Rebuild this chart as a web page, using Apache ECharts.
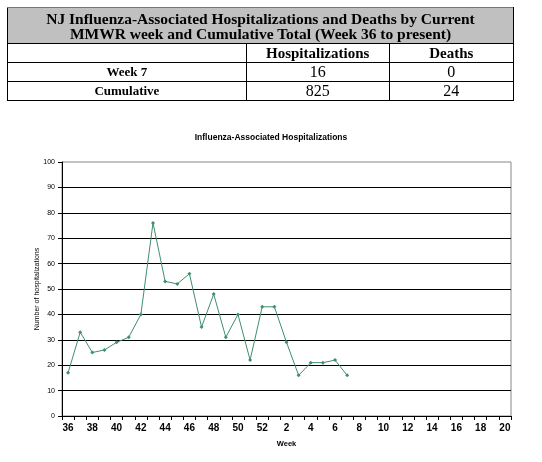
<!DOCTYPE html>
<html>
<head>
<meta charset="utf-8">
<script src="https://cdn.jsdelivr.net/npm/echarts@6/dist/echarts.min.js"></script>
<style>
html,body{margin:0;padding:0;background:#fff;}
#chart{position:absolute;left:0;top:0;width:542px;height:462px;}
#tbl{position:absolute;left:7px;top:7px;width:507px;border-collapse:collapse;font-family:"Liberation Serif",serif;color:#000;}
#tbl td{border:1px solid #000;padding:0;text-align:center;}
#tbl .hd{background:#c0c0c0;font-weight:bold;font-size:15.5px;line-height:15px;height:35px;border-top-color:#777;}
#tbl .ch{font-weight:bold;font-size:15px;height:18px;line-height:18px;}
#tbl .rh{font-weight:bold;font-size:13px;height:18px;line-height:18px;}
#tbl .v{font-size:16px;height:18px;line-height:18px;}
</style>
</head>
<body>
<div id="chart"></div>
<table id="tbl"></table>
<script>
// Table contents
var tableTitle = ["NJ Influenza-Associated Hospitalizations and Deaths by Current", "MMWR week and Cumulative Total (Week 36 to present)"];
var tableColumns = ["", "Hospitalizations", "Deaths"];
var tableRows = ["Week 7", "Cumulative"];
var tableHosp = [16, 825];
var tableDeaths = [0, 24];

// Chart data
var weeks = ["36","37","38","39","40","41","42","43","44","45","46","47","48","49","50","51","52",
             "1","2","3","4","5","6","7","8","9","10","11","12","13","14","15","16","17","18","19","20"];
var hospitalizations = [17,33,25,26,29,31,40,76,53,52,56,35,48,31,40,22,43,
                        43,29,16,21,21,22,16];
var yTicks = [0,10,20,30,40,50,60,70,80,90,100];

// Build table
var t = document.getElementById('tbl');
var html = '<tr><td class="hd" colspan="3">' + tableTitle.join('<br>') + '</td></tr>';
html += '<tr>' + tableColumns.map(function(c,i){return '<td class="ch" style="width:' + [239,142,124][i] + 'px">' + c + '</td>';}).join('') + '</tr>';
for (var i = 0; i < tableRows.length; i++) {
  html += '<tr><td class="rh">' + tableRows[i] + '</td><td class="v">' + tableHosp[i] + '</td><td class="v">' + tableDeaths[i] + '</td></tr>';
}
t.innerHTML = html;

var seriesData = weeks.map(function(w, i){ return i < hospitalizations.length ? hospitalizations[i] : null; });

var chart = echarts.init(document.getElementById('chart'), null, {renderer:'canvas'});
chart.setOption({
  animation: false,
  backgroundColor: '#fff',
  title: {
    text: 'Influenza-Associated Hospitalizations',
    left: 'center',
    top: 128,
    textStyle: {fontFamily:'Liberation Sans', fontSize: 8.5, fontWeight:'bold', color:'#000'}
  },
  grid: {left: 62, right: 31, top: 162, bottom: 46, show: true, borderColor: '#888', borderWidth: 1, backgroundColor:'#fff'},
  xAxis: {
    type: 'category',
    data: weeks,
    boundaryGap: true,
    name: 'Week',
    nameLocation: 'middle',
    nameGap: 24,
    nameMoveOverlap: false,
    nameTextStyle: {fontFamily:'Liberation Sans', fontSize: 7.5, fontWeight:'bold', color:'#000'},
    axisLine: {lineStyle: {color:'#000', width:1}},
    axisTick: {show:true, interval: 0, length: 4, lineStyle:{color:'#000'}},
    axisLabel: {interval: 1, margin: 7, fontFamily:'Liberation Sans', fontSize: 10, fontWeight:'bold', color:'#000'},
    splitLine: {show:false}
  },
  yAxis: {
    type: 'value',
    min: yTicks[0],
    max: yTicks[yTicks.length-1],
    interval: yTicks[1]-yTicks[0],
    name: 'Number of hospitalizations',
    nameLocation: 'middle',
    nameRotate: 90,
    nameGap: 21,
    nameMoveOverlap: false,
    nameTextStyle: {fontFamily:'Liberation Sans', fontSize: 7, color:'#000'},
    axisLine: {show:true, lineStyle: {color:'#000', width:1}},
    axisTick: {show:true, length: 4, lineStyle:{color:'#000'}},
    axisLabel: {margin: 7, fontFamily:'Liberation Sans', fontSize: 7, color:'#000'},
    splitLine: {show:true, showMaxLine:false, showMinLine:false, lineStyle:{color:'#000', width:1}}
  },
  series: [{
    type: 'line',
    data: seriesData,
    connectNulls: false,
    symbol: 'diamond',
    symbolSize: 4,
    lineStyle: {color:'#3f8f6d', width:1},
    itemStyle: {color:'#3f8f6d'}
  }]
});
</script>
</body>
</html>
